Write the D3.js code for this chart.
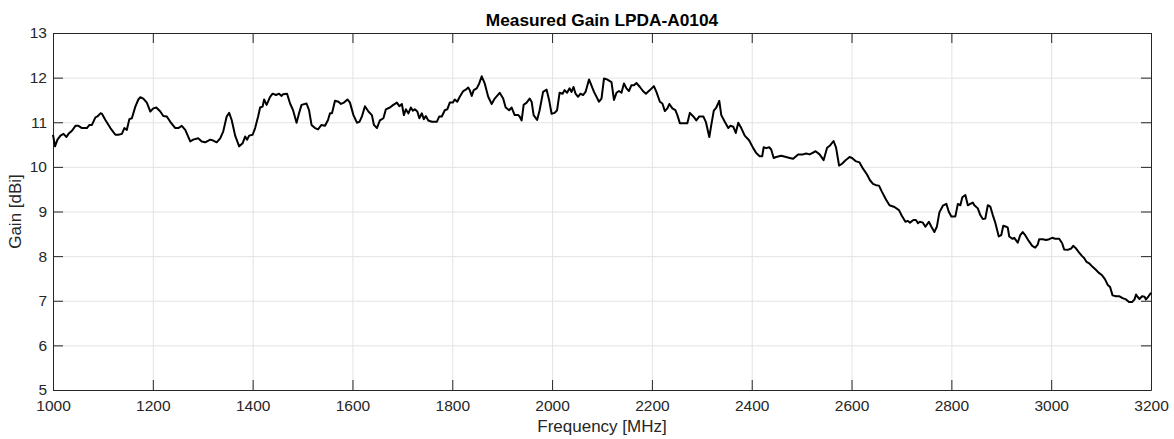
<!DOCTYPE html>
<html>
<head>
<meta charset="utf-8">
<script src="https://cdn.jsdelivr.net/npm/d3@7"></script>
<style>
  body { margin: 0; background: #fff; }
  svg { display: block; font-family: "Liberation Sans", Arial, sans-serif; }
  .grid line { stroke: #e3e3e3; stroke-width: 1; }
  .grid .domain { display: none; }
  .axis path, .axis line { stroke: #262626; }
  .axis text { fill: #262626; font-size: 15.5px; }
</style>
</head>
<body>
<script>
// measured gain
const freqMHz = [
  1000, 1004, 1009, 1015, 1021, 1027, 1031, 1038, 1045, 1051, 1058, 1068, 1073, 1078, 1085, 1089, 1095, 1098,
  1105, 1115, 1125, 1131, 1138, 1143, 1148, 1153, 1158, 1165, 1171, 1175, 1181, 1188, 1195,
  1201, 1207, 1215, 1221, 1228, 1235, 1245, 1251, 1258, 1265, 1275, 1281, 1291, 1298,
  1305, 1315, 1321, 1328, 1335, 1341, 1348, 1353, 1358, 1365, 1373, 1380, 1385, 1389, 1393,
  1400, 1405, 1411, 1415, 1420, 1423, 1428, 1435, 1440, 1447, 1453, 1458, 1461, 1469, 1475, 1481, 1488, 1493, 1498,
  1508, 1513, 1518, 1525, 1531, 1538, 1545, 1551, 1555, 1559, 1565, 1572, 1577, 1583, 1590, 1595,
  1602, 1609, 1614, 1619, 1625, 1632, 1639, 1643, 1649, 1655, 1662, 1667, 1675, 1682, 1689, 1694, 1699,
  1703, 1707, 1712, 1717, 1721, 1725, 1730, 1734, 1739, 1743, 1747, 1752, 1759, 1769, 1774, 1779, 1785, 1790, 1795,
  1801, 1805, 1810, 1815, 1822, 1827, 1832, 1835, 1839, 1843, 1849, 1854, 1859, 1865, 1872, 1879, 1885, 1895,
  1902, 1907, 1914, 1919, 1925, 1932, 1935, 1939, 1943, 1949, 1955, 1959, 1963, 1970, 1975, 1982, 1989, 1994, 1999,
  2005, 2010, 2015, 2021, 2025, 2030, 2035, 2039, 2043, 2047, 2052, 2057, 2062, 2067, 2074, 2084, 2094, 2099,
  2104, 2110, 2119, 2124, 2129, 2134, 2139, 2144, 2149, 2154, 2159, 2164, 2169, 2176, 2182, 2188, 2196,
  2204, 2209, 2216, 2221, 2226, 2231, 2235, 2241, 2247, 2251, 2256, 2263, 2271, 2276, 2283, 2289, 2295,
  2303, 2308, 2315, 2319, 2324, 2329, 2335, 2339, 2346, 2353, 2357, 2363, 2368, 2373, 2379, 2386, 2395,
  2403, 2409, 2416, 2421, 2424, 2429, 2435, 2439, 2444, 2449, 2459, 2469, 2476, 2483, 2493,
  2503, 2509, 2516, 2521, 2528, 2536, 2544, 2551, 2557, 2564, 2569, 2575, 2581, 2588, 2596,
  2601, 2608, 2616, 2623, 2631, 2637, 2643, 2649, 2655, 2661, 2669, 2676, 2686, 2695,
  2701, 2708, 2713, 2717, 2724, 2729, 2733, 2737, 2743, 2748, 2755, 2760, 2766, 2771, 2776, 2783, 2790, 2795,
  2800, 2808, 2813, 2818, 2822, 2828, 2833, 2838, 2843, 2846, 2853, 2858, 2863, 2868, 2873, 2878, 2883, 2888, 2895,
  2900, 2904, 2910, 2913, 2916, 2922, 2926, 2933, 2938, 2943, 2948, 2955, 2962, 2968, 2973, 2976, 2983, 2990, 2996,
  3002, 3008, 3016, 3022, 3026, 3033, 3040, 3044, 3050, 3056, 3062, 3066, 3071, 3076, 3083, 3090, 3095,
  3102, 3108, 3113, 3118, 3123, 3130, 3137, 3143, 3150, 3156, 3162, 3167, 3170, 3173, 3177, 3182, 3187, 3190, 3195, 3200
];

const gainDBi = [
  10.72, 10.46, 10.61, 10.70, 10.74, 10.67, 10.74, 10.81, 10.92, 10.92, 10.87, 10.87, 10.94, 10.94, 11.11, 11.13, 11.20, 11.19,
  11.05, 10.87, 10.72, 10.72, 10.74, 10.87, 10.83, 11.07, 11.09, 11.35, 11.51, 11.56, 11.53, 11.44, 11.24,
  11.31, 11.33, 11.24, 11.14, 11.13, 11.01, 10.87, 10.87, 10.92, 10.83, 10.57, 10.61, 10.64, 10.57,
  10.55, 10.61, 10.59, 10.55, 10.64, 10.79, 11.13, 11.21, 11.05, 10.70, 10.46, 10.53, 10.68, 10.61, 10.70,
  10.72, 10.87, 11.13, 11.33, 11.35, 11.51, 11.39, 11.57, 11.64, 11.61, 11.64, 11.59, 11.63, 11.64, 11.42, 11.27, 10.99, 11.20, 11.39,
  11.42, 11.27, 10.94, 10.87, 10.84, 10.94, 10.92, 11.05, 11.20, 11.20, 11.48, 11.46, 11.41, 11.44, 11.51, 11.44,
  11.16, 10.99, 11.01, 11.13, 11.36, 11.24, 11.16, 10.94, 10.87, 11.04, 11.09, 11.29, 11.33, 11.39, 11.44, 11.36, 11.41,
  11.16, 11.29, 11.20, 11.33, 11.26, 11.29, 11.24, 11.09, 11.20, 11.07, 11.14, 11.04, 11.01, 11.01, 11.13, 11.13, 11.27, 11.29, 11.44,
  11.44, 11.51, 11.46, 11.57, 11.70, 11.73, 11.78, 11.72, 11.59, 11.72, 11.76, 11.87, 12.03, 11.87, 11.57, 11.41, 11.53, 11.66,
  11.53, 11.33, 11.27, 11.33, 11.16, 11.16, 11.13, 11.04, 11.39, 11.44, 11.53, 11.46, 11.16, 11.05, 11.27, 11.68, 11.73, 11.50, 11.19,
  11.21, 11.27, 11.66, 11.64, 11.72, 11.66, 11.76, 11.68, 11.79, 11.64, 11.57, 11.64, 11.61, 11.68, 11.96, 11.68, 11.46, 11.53,
  11.98, 11.96, 11.90, 11.50, 11.66, 11.70, 11.66, 11.87, 11.76, 11.70, 11.83, 11.83, 11.88, 11.79, 11.70, 11.64, 11.72,
  11.81, 11.68, 11.46, 11.42, 11.25, 11.31, 11.41, 11.31, 11.27, 11.16, 10.98, 10.98, 10.98, 11.21, 11.13, 11.04, 11.13,
  11.13, 11.01, 10.67, 10.94, 11.26, 11.33, 11.48, 11.16, 11.01, 10.87, 10.92, 10.90, 10.76, 10.99, 10.87, 10.70, 10.59,
  10.42, 10.31, 10.24, 10.24, 10.44, 10.42, 10.44, 10.39, 10.20, 10.22, 10.25, 10.22, 10.20, 10.18, 10.28,
  10.28, 10.30, 10.28, 10.31, 10.35, 10.28, 10.15, 10.43, 10.48, 10.58, 10.43, 10.03, 10.07, 10.15, 10.22,
  10.20, 10.13, 10.10, 9.96, 9.83, 9.70, 9.62, 9.59, 9.58, 9.44, 9.27, 9.14, 9.10, 9.03,
  8.90, 8.77, 8.79, 8.75, 8.81, 8.81, 8.74, 8.77, 8.75, 8.66, 8.77, 8.66, 8.54, 8.66, 8.98, 9.13, 9.17, 8.99,
  8.89, 8.89, 9.17, 9.14, 9.32, 9.37, 9.14, 9.17, 9.20, 9.14, 9.07, 8.92, 8.83, 8.84, 9.14, 9.11, 8.92, 8.75, 8.44,
  8.47, 8.68, 8.66, 8.64, 8.44, 8.39, 8.41, 8.30, 8.47, 8.54, 8.47, 8.34, 8.23, 8.19, 8.26, 8.38, 8.38, 8.36, 8.38,
  8.41, 8.39, 8.39, 8.29, 8.15, 8.14, 8.17, 8.23, 8.17, 8.08, 8.00, 7.96, 7.87, 7.84, 7.76, 7.69, 7.63,
  7.57, 7.48, 7.36, 7.31, 7.12, 7.10, 7.10, 7.06, 7.03, 6.97, 6.97, 7.03, 7.14, 7.09, 7.04, 7.10, 7.09, 7.03, 7.10, 7.18
];

const xTicks = [1000, 1200, 1400, 1600, 1800, 2000, 2200, 2400, 2600, 2800, 3000, 3200];
const yTicks = [5, 6, 7, 8, 9, 10, 11, 12, 13];

const gainChart = (() => {
  var initModule, drawAxes;

  const width = 1174,
        height = 439,
        margin = { top: 33, right: 23, bottom: 49, left: 53 };

  const fmt = d3.format("d");

  drawAxes = (g, x, y, w, h) => {
    // grid first so the box sits on top
    g.append("g")
      .attr("class", "grid")
      .attr("transform", `translate(0,${h})`)
      .call(d3.axisBottom(x).tickValues(xTicks).tickSize(-h).tickFormat(""));

    g.append("g")
      .attr("class", "grid")
      .call(d3.axisLeft(y).tickValues(yTicks).tickSize(-w).tickFormat(""));

    g.append("g")
      .attr("class", "axis")
      .attr("transform", `translate(0,${h})`)
      .call(d3.axisBottom(x).tickValues(xTicks).tickFormat(fmt)
        .tickSizeInner(-10).tickSizeOuter(0).tickPadding(10));

    g.append("g")
      .attr("class", "axis")
      .call(d3.axisTop(x).tickValues(xTicks).tickSizeInner(-10).tickSizeOuter(0).tickFormat(""));

    g.append("g")
      .attr("class", "axis")
      .call(d3.axisLeft(y).tickValues(yTicks).tickFormat(fmt)
        .tickSizeInner(-10).tickSizeOuter(0).tickPadding(6));

    g.append("g")
      .attr("class", "axis")
      .attr("transform", `translate(${w},0)`)
      .call(d3.axisRight(y).tickValues(yTicks).tickSizeInner(-10).tickSizeOuter(0).tickFormat(""));
  };

  initModule = () => {
    const w = width - margin.left - margin.right,
          h = height - margin.top - margin.bottom;

    const svg = d3.select("body").append("svg")
      .attr("width", width)
      .attr("height", height);

    const g = svg.append("g")
      .attr("transform", `translate(${margin.left},${margin.top})`);

    const x = d3.scaleLinear().domain([1000, 3200]).range([0, w]);
    const y = d3.scaleLinear().domain([5, 13]).range([h, 0]);

    drawAxes(g, x, y, w, h);

    const line = d3.line()
      .x((d, i) => x(freqMHz[i]))
      .y(d => y(d));

    g.append("path")
      .datum(gainDBi)
      .attr("fill", "none")
      .attr("stroke", "#000")
      .attr("stroke-width", 2)
      .attr("stroke-linejoin", "round")
      .attr("d", line);

    svg.append("text")
      .attr("x", margin.left + w / 2)
      .attr("y", 26)
      .attr("text-anchor", "middle")
      .style("font-size", "17.3px")
      .style("font-weight", "bold")
      .style("fill", "#000")
      .text("Measured Gain LPDA-A0104");

    svg.append("text")
      .attr("x", margin.left + w / 2)
      .attr("y", 432)
      .attr("text-anchor", "middle")
      .style("font-size", "17px")
      .style("fill", "#262626")
      .text("Frequency [MHz]");

    svg.append("text")
      .attr("transform", `translate(21,${margin.top + h / 2}) rotate(-90)`)
      .attr("text-anchor", "middle")
      .style("font-size", "17px")
      .style("fill", "#262626")
      .text("Gain [dBi]");

    return "gainChart initialized.";
  };

  return {
    initModule: initModule
  };
})();

gainChart.initModule();
</script>
</body>
</html>
